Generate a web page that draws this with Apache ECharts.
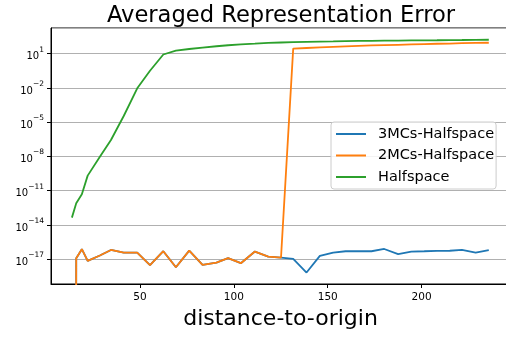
<!DOCTYPE html>
<html>
<head>
<meta charset="utf-8">
<script src="https://cdn.jsdelivr.net/npm/echarts@6/dist/echarts.min.js"></script>
<style>
  html, body { margin: 0; padding: 0; background: #fff; }
  #chart { width: 506px; height: 339px; }
</style>
</head>
<body>
<div id="chart"></div>
<script>
// distance-to-origin samples
const distance = [13.7, 16.0, 19.0, 22.1, 28.6, 34.5, 41.3, 48.5, 55.3, 62.4, 69.1, 76.2, 83.3, 90.7, 96.9, 103.7, 111.2, 118.3, 125.1,
  131.6, 138.7, 145.8, 152.9, 159.5, 166.4, 173.3, 180.1, 187.5, 194.5, 201.4, 208.2, 215.0, 221.5, 228.8, 235.8];

const err3MCs = [0, 1.23e-17, 7.6e-17, 7.1e-18, 2.1e-17, 6.5e-17, 3.8e-17, 3.8e-17, 3.0e-18, 5.0e-17, 2.0e-18, 5.6e-17, 3.2e-18, 5.0e-18, 1.23e-17, 4.5e-18, 4.7e-17, 1.7e-17, 1.4e-17,
  1.07e-17, 6.8e-19, 1.95e-17, 3.8e-17, 5.0e-17, 5.0e-17, 5.0e-17, 7.9e-17, 2.75e-17, 4.7e-17, 5.0e-17, 5.4e-17, 5.5e-17, 6.5e-17, 3.8e-17, 6.2e-17];

const err2MCs = [0, 1.23e-17, 7.6e-17, 7.1e-18, 2.1e-17, 6.5e-17, 3.8e-17, 3.8e-17, 3.0e-18, 5.0e-17, 2.0e-18, 5.6e-17, 3.2e-18, 5.0e-18, 1.23e-17, 4.5e-18, 4.7e-17, 1.7e-17, 1.4e-17,
  27.5, 31.6, 35.5, 39.8, 43.7, 47.9, 52.5, 56.2, 60.3, 64.6, 69.2, 74.1, 77.6, 83.2, 87.1, 91.2];

const errHalfspace = [4.4e-14, 7.9e-13, 4.9e-12, 2.1e-10, 9.5e-9, 2.75e-7, 3.5e-5, 9.3e-3, 0.32, 8.5, 18.2, 25.7, 33.9, 44.7, 55, 66, 75.9, 87.1, 95.5,
  104.7, 110, 115, 120, 126, 132, 135, 138, 141, 145, 148, 151, 155, 158, 162, 166];

const seriesNames = ['3MCs-Halfspace', '2MCs-Halfspace', 'Halfspace'];
const xTicks = [50, 100, 150, 200];
const yTickExps = [-17, -14, -11, -8, -5, -2, 1];

// log10 values are shifted so 1e-17 sits at 0 -> ticks land on multiples of 3
const SHIFT = 17;
const toLog = v => Math.log10(Math.max(v, 1e-300)) + SHIFT;  // non-positive values clipped like matplotlib
const pairs = arr => arr.map((v, i) => [distance[i], toLog(v)]);

const font = 'DejaVu Sans';
const colors = ['#1f77b4', '#ff7f0e', '#2ca02c'];

const chart = echarts.init(document.getElementById('chart'), null, { renderer: 'canvas' });

const supMinus = e => (e < 0 ? '\u2212' + (-e) : '' + e);

const lineSeries = (name, data) => ({
  name: name,
  type: 'line',
  data: pairs(data),
  symbol: 'none',
  showSymbol: false,
  lineStyle: { width: 1.8 },
  clip: true,
  animation: false
});

chart.setOption({
  animation: false,
  color: colors,
  textStyle: { fontFamily: font },
  title: {
    text: 'Averaged Representation Error',
    left: 276,
    top: 0,
    textAlign: 'center',
    textStyle: { fontSize: 22.6, fontWeight: 'normal', color: '#000', fontFamily: font }
  },
  // plot area runs past the right edge of the picture, as in the original
  grid: {
    left: 51,
    top: 28,
    width: 459,
    bottom: 55,
    show: true,
    borderColor: '#000',
    borderWidth: 1,
    containLabel: false,
    outerBoundsMode: 'none'
  },
  legend: {
    orient: 'vertical',
    left: 331,
    top: 122,
    data: seriesNames,
    icon: 'rect',
    itemWidth: 30,
    itemHeight: 2,
    itemGap: 5.5,
    padding: [4, 2, 4, 5],
    backgroundColor: 'rgba(255,255,255,0.85)',
    borderColor: '#cccccc',
    borderWidth: 1,
    borderRadius: 3,
    textStyle: { fontSize: 14.5, color: '#000', fontFamily: font, lineHeight: 16, padding: [0, 0, 0, 7] }
  },
  xAxis: {
    type: 'value',
    min: 2.56,
    max: 247.1,
    minInterval: 50,
    maxInterval: 50,
    name: 'distance-to-origin',
    nameLocation: 'middle',
    nameGap: 22,
    nameTextStyle: { fontSize: 22, color: '#000', fontFamily: font },
    axisLine: { onZero: false, lineStyle: { color: '#000', width: 1 } },
    axisTick: { length: 4, lineStyle: { color: '#000' }, customValues: xTicks },
    axisLabel: { color: '#000', fontSize: 10.5, margin: 8, fontFamily: font, customValues: xTicks },
    splitLine: { show: false }
  },
  yAxis: {
    type: 'value',
    min: -19.17 + SHIFT,
    max: 3.25 + SHIFT,
    minInterval: 3,
    maxInterval: 3,
    axisLine: { show: true, onZero: false, lineStyle: { color: '#000', width: 1 } },
    axisTick: { show: true, length: 4, lineStyle: { color: '#000' } },
    axisLabel: {
      color: '#000',
      margin: 7,
      showMinLabel: false,
      showMaxLabel: false,
      formatter: v => {
        const e = Math.round(v - SHIFT);
        if (Math.abs(v - SHIFT - e) > 1e-6 || yTickExps.indexOf(e) < 0) return '';
        return '{b|10}{e|' + supMinus(e) + '}';
      },
      rich: {
        b: { fontSize: 10, fontFamily: font, color: '#000', verticalAlign: 'bottom', lineHeight: 16 },
        e: { fontSize: 7.5, fontFamily: font, color: '#000', verticalAlign: 'top', lineHeight: 16 }
      }
    },
    splitLine: { show: true, lineStyle: { color: '#b0b0b0', width: 1 } }
  },
  series: [
    lineSeries(seriesNames[0], err3MCs),
    lineSeries(seriesNames[1], err2MCs),
    lineSeries(seriesNames[2], errHalfspace)
  ]
});
</script>
</body>
</html>
